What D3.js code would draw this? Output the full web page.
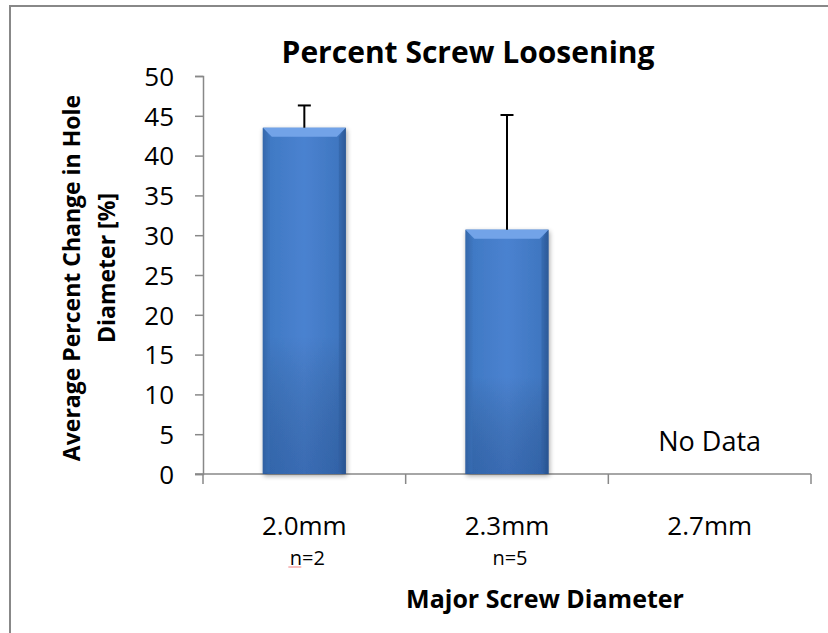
<!DOCTYPE html>
<html><head><meta charset="utf-8">
<script src="https://cdn.jsdelivr.net/npm/d3@7"></script>
<style>body{margin:0;background:#fff}svg{display:block}text{font-family:"Open Sans",sans-serif}</style>
</head><body>
<svg id="c" width="828" height="633"></svg>
<script>
const categories = ["2.0mm", "2.3mm", "2.7mm"];
const sampleSizes = ["n=2", "n=5", ""];
const values = [43.5, 30.7, null];
const errorsUp = [2.8, 14.4, null];
const yTicks = [0, 5, 10, 15, 20, 25, 30, 35, 40, 45, 50];

const svg = d3.select("#c");
const m = {left: 203, right: 17, top: 76, bottom: 159};
const W = 828, H = 633;
const x = d3.scaleBand().domain(categories).range([m.left, W - m.right]).padding(0);
const y = d3.scaleLinear().domain([0, 50]).range([H - m.bottom, m.top]);

// outer frame
svg.append("path").attr("d", `M10,633 V6 H828`).attr("fill", "none").attr("stroke", "#888").attr("stroke-width", 2);

// defs
const defs = svg.append("defs");
const gH = defs.append("linearGradient").attr("id", "gh").attr("x1", 0).attr("x2", 1).attr("y1", 0).attr("y2", 0);
[[0, "#2f5f9f"], [0.07, "#4079c4"], [0.5, "#4a82d0"], [0.93, "#3f76c0"], [1, "#2a5591"]].forEach(([o, c]) => gH.append("stop").attr("offset", o).attr("stop-color", c));
const gV = defs.append("linearGradient").attr("id", "gv").attr("x1", 0).attr("x2", 0).attr("y1", 0).attr("y2", 1);
[[0, "#000", 0], [0.6, "#000", 0], [1, "#0a2a60", 0.25]].forEach(([o, c, a]) => gV.append("stop").attr("offset", o).attr("stop-color", c).attr("stop-opacity", a));
const flt = defs.append("filter").attr("id", "sh").attr("x", "-20%").attr("y", "-10%").attr("width", "140%").attr("height", "130%");
flt.append("feGaussianBlur").attr("in", "SourceAlpha").attr("stdDeviation", 2.5);
flt.append("feOffset").attr("dx", 1).attr("dy", 2).attr("result", "b");
flt.append("feComponentTransfer").append("feFuncA").attr("type", "linear").attr("slope", 0.35);
const fm = flt.append("feMerge"); fm.append("feMergeNode"); fm.append("feMergeNode").attr("in", "SourceGraphic");

// axes
const yAxis = d3.axisLeft(y).tickValues(yTicks).tickSize(8).tickPadding(21).tickFormat(d3.format("d"));
const gy = svg.append("g").attr("transform", `translate(${m.left},0)`).call(yAxis);
gy.select(".domain").attr("stroke", "#888").attr("stroke-width", 1.5);
gy.selectAll(".tick line").attr("stroke", "#888").attr("stroke-width", 1.5);
gy.selectAll(".tick text").attr("font-size", 26).attr("fill", "#000").attr("dy", "0.36em");

const x0 = y(0);
svg.append("line").attr("x1", m.left - 8).attr("x2", W - m.right).attr("y1", x0).attr("y2", x0).attr("stroke", "#888").attr("stroke-width", 1.5);
const bounds = [x.range()[0]].concat(categories.map(c => x(c) + x.bandwidth()));
svg.selectAll(".xt").data(bounds).join("line").attr("x1", d => d).attr("x2", d => d).attr("y1", x0).attr("y2", x0 + 10).attr("stroke", "#888").attr("stroke-width", 1.5);

svg.selectAll(".xl").data(categories).join("text").attr("x", d => x(d) + x.bandwidth() / 2).attr("y", 535)
  .attr("text-anchor", "middle").attr("font-size", 26).text(d => d);
svg.selectAll(".nl").data(sampleSizes).join("text").attr("x", (d, i) => x(categories[i]) + x.bandwidth() / 2 + 3).attr("y", 565)
  .attr("text-anchor", "middle").attr("font-size", 20).text(d => d);
// spelling squiggle under first n
const n0 = x(categories[0]) + x.bandwidth() / 2 + 3;
svg.append("line").attr("x1", n0 - 19).attr("x2", n0 - 6).attr("y1", 567).attr("y2", 567).attr("stroke", "#f08080").attr("stroke-width", 1);

// bars
const bw = x.bandwidth() * 0.41;
const bars = categories.map((c, i) => ({c, v: values[i], e: errorsUp[i]})).filter(d => d.v != null);
const bg = svg.selectAll(".bar").data(bars).join("g").attr("filter", "url(#sh)");
bg.append("rect").attr("x", d => x(d.c) + (x.bandwidth() - bw) / 2).attr("width", bw)
  .attr("y", d => y(d.v)).attr("height", d => y(0) - y(d.v)).attr("fill", "url(#gh)");
bg.append("rect").attr("x", d => x(d.c) + (x.bandwidth() - bw) / 2).attr("width", bw)
  .attr("y", d => y(d.v)).attr("height", d => y(0) - y(d.v)).attr("fill", "url(#gv)");
// top bevel
bg.append("path").attr("d", d => {
  const l = x(d.c) + (x.bandwidth() - bw) / 2, r = l + bw, t = y(d.v), b = 9;
  return `M${l},${t} H${r} L${r - b},${t + b} H${l + b} Z`;
}).attr("fill", "#72a3e8");
bg.append("path").attr("d", d => {
  const l = x(d.c) + (x.bandwidth() - bw) / 2, t = y(d.v), b = 7;
  return `M${l},${t} L${l + b},${t + 9} V${y(0) - 2} L${l},${y(0)} Z`;
}).attr("fill", "#3a6fb6").attr("opacity", 0.5);
bg.append("path").attr("d", d => {
  const r = x(d.c) + (x.bandwidth() + bw) / 2, t = y(d.v), b = 7;
  return `M${r},${t} L${r - b},${t + 9} V${y(0) - 2} L${r},${y(0)} Z`;
}).attr("fill", "#2d5b9c").attr("opacity", 0.5);

// error bars
const eb = svg.selectAll(".err").data(bars).join("g").attr("stroke", "#000").attr("stroke-width", 2);
eb.append("line").attr("x1", d => x(d.c) + x.bandwidth() / 2).attr("x2", d => x(d.c) + x.bandwidth() / 2)
  .attr("y1", d => y(d.v)).attr("y2", d => y(d.v + d.e));
eb.append("line").attr("x1", d => x(d.c) + x.bandwidth() / 2 - 6.5).attr("x2", d => x(d.c) + x.bandwidth() / 2 + 6.5)
  .attr("y1", d => y(d.v + d.e)).attr("y2", d => y(d.v + d.e));

// No Data
svg.append("text").attr("x", x(categories[2]) + x.bandwidth() / 2).attr("y", 451).attr("text-anchor", "middle").attr("font-size", 27).text("No Data");

// titles
svg.append("text").attr("x", 468).attr("y", 63).attr("text-anchor", "middle").attr("font-size", 30).attr("font-weight", "bold").text("Percent Screw Loosening");
svg.append("text").attr("x", 545).attr("y", 608).attr("text-anchor", "middle").attr("font-size", 25).attr("font-weight", "bold").text("Major Screw Diameter");
const yt = svg.append("text").attr("transform", "rotate(-90)").attr("text-anchor", "middle").attr("font-size", 23).attr("font-weight", "bold");
yt.append("tspan").attr("x", -278).attr("y", 80).text("Average Percent Change in Hole");
yt.append("tspan").attr("x", -268).attr("y", 115).text("Diameter [%]");
</script>
</body></html>
